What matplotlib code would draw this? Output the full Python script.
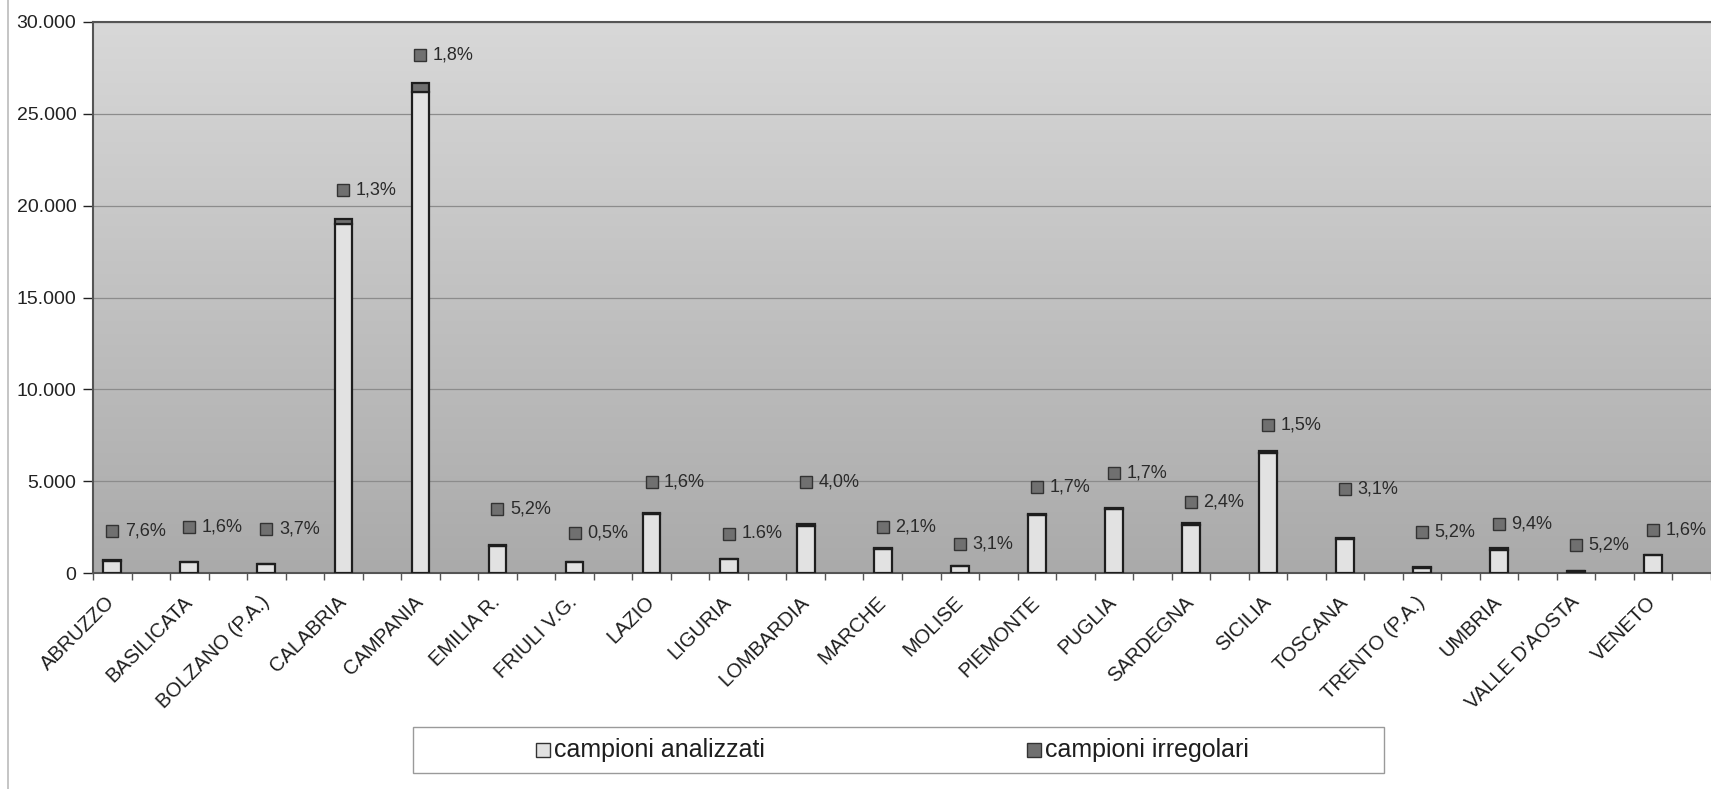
import matplotlib
matplotlib.use("Agg")
import matplotlib.pyplot as plt
import numpy as np
from matplotlib.ticker import FuncFormatter, MultipleLocator
from matplotlib.patches import Rectangle
from matplotlib.lines import Line2D

# Data
regioni = ["ABRUZZO", "BASILICATA", "BOLZANO (P.A.)", "CALABRIA", "CAMPANIA",
           "EMILIA R.", "FRIULI V.G.", "LAZIO", "LIGURIA", "LOMBARDIA", "MARCHE",
           "MOLISE", "PIEMONTE", "PUGLIA", "SARDEGNA", "SICILIA", "TOSCANA",
           "TRENTO (P.A.)", "UMBRIA", "VALLE D'AOSTA", "VENETO"]
analizzati = [660, 590, 470, 19000, 26200, 1470, 580, 3190, 770, 2540, 1320,
              390, 3140, 3460, 2640, 6550, 1870, 285, 1230, 115, 960]
irregolari = [50, 10, 18, 247, 472, 76, 3, 51, 12, 102, 28,
              12, 53, 59, 63, 98, 58, 15, 116, 6, 15]
perc_labels = ["7,6%", "1,6%", "3,7%", "1,3%", "1,8%", "5,2%", "0,5%", "1,6%",
               "1.6%", "4,0%", "2,1%", "3,1%", "1,7%", "1,7%", "2,4%", "1,5%",
               "3,1%", "5,2%", "9,4%", "5,2%", "1,6%"]
# height where each percentage label sits
label_y = [2300, 2530, 2390, 20840, 28180, 3460, 2180, 4950, 2130, 4950, 2520,
           1580, 4660, 5450, 3880, 8040, 4550, 2240, 2650, 1530, 2330]

light = "#e2e2e2"
dark = "#707070"
edge = "#1e1e1e"
plt.rcParams["font.family"] = ["Liberation Sans", "DejaVu Sans"]

fig = plt.figure(figsize=(17.11, 7.89), dpi=100)
ax = fig.add_axes([93 / 1711, 1 - 573 / 789, 1 - 93 / 1711, (573 - 22) / 789])

# gradient background of the plot area
grad = np.linspace(0, 1, 256).reshape(-1, 1)
cmap = matplotlib.colors.LinearSegmentedColormap.from_list("bg", ["#d8d8d8", "#aaaaaa"])
ax.imshow(grad, aspect="auto", cmap=cmap, extent=[0, 1, 0, 1],
          transform=ax.transAxes, zorder=0)

x = np.arange(len(regioni)) + 0.25
w = 0.23
ax.bar(x, analizzati, w, color=light, edgecolor=edge, linewidth=1.6, zorder=3)
ax.bar(x, irregolari, w, bottom=analizzati, color=dark, edgecolor=edge,
       linewidth=1.6, zorder=3)

# percentage labels with the little square key
for xi, yi, lab in zip(x, label_y, perc_labels):
    ax.plot(xi, yi, marker="s", markersize=8, color=dark, markeredgecolor="#333333",
            markeredgewidth=1.0, zorder=4, clip_on=False)
    ax.annotate(lab, (xi, yi), xytext=(9, 0), textcoords="offset points",
                ha="left", va="center", fontsize=13, color="#2a2a2a", zorder=4)

ax.set_xlim(0, len(regioni))
ax.set_ylim(0, 30000)
ax.yaxis.set_major_locator(MultipleLocator(5000))
ax.yaxis.set_major_formatter(FuncFormatter(lambda v, p: f"{int(v):,}".replace(",", ".")))
ax.grid(axis="y", color="#8c8c8c", linewidth=0.9, zorder=1)
ax.set_axisbelow(True)
ax.tick_params(axis="y", labelsize=14, colors="#222222", length=7, width=1, pad=5)

ax.set_xticks(np.arange(0, len(regioni) + 0.01, 0.5))
ax.set_xticklabels([])
ax.tick_params(axis="x", length=5, width=1, colors="#555555")
for xi, name in zip(x, regioni):
    ax.annotate(name, (xi, 0), xytext=(0, -19), textcoords="offset points",
                rotation=45, ha="right", va="center", rotation_mode="anchor",
                fontsize=14.5, color="#1e1e1e")

for s in ["left", "bottom", "top"]:
    ax.spines[s].set_color("#555555")
    ax.spines[s].set_linewidth(1.5)
ax.spines["right"].set_visible(False)

# outer chart border on the left
fig.add_artist(Line2D([8 / 1711, 8 / 1711], [0, 1], color="#bbbbbb", linewidth=1.2))

# legend drawn by hand
fig.add_artist(Rectangle((413 / 1711, 1 - 773 / 789), (1384 - 413) / 1711, 46 / 789,
                         facecolor="white", edgecolor="#9a9a9a", linewidth=1.0))
for px, lab, col in [(543, "campioni analizzati", light), (1034, "campioni irregolari", dark)]:
    fig.add_artist(Line2D([px / 1711], [1 - 750 / 789], marker="s", markersize=10,
                          color=col, markeredgecolor="#333333", markeredgewidth=1.0))
    fig.text((px + 11) / 1711, 1 - 750 / 789, lab, ha="left", va="center",
             fontsize=18, color="#1e1e1e")

fig.savefig("out.png", dpi=100, facecolor="white")
